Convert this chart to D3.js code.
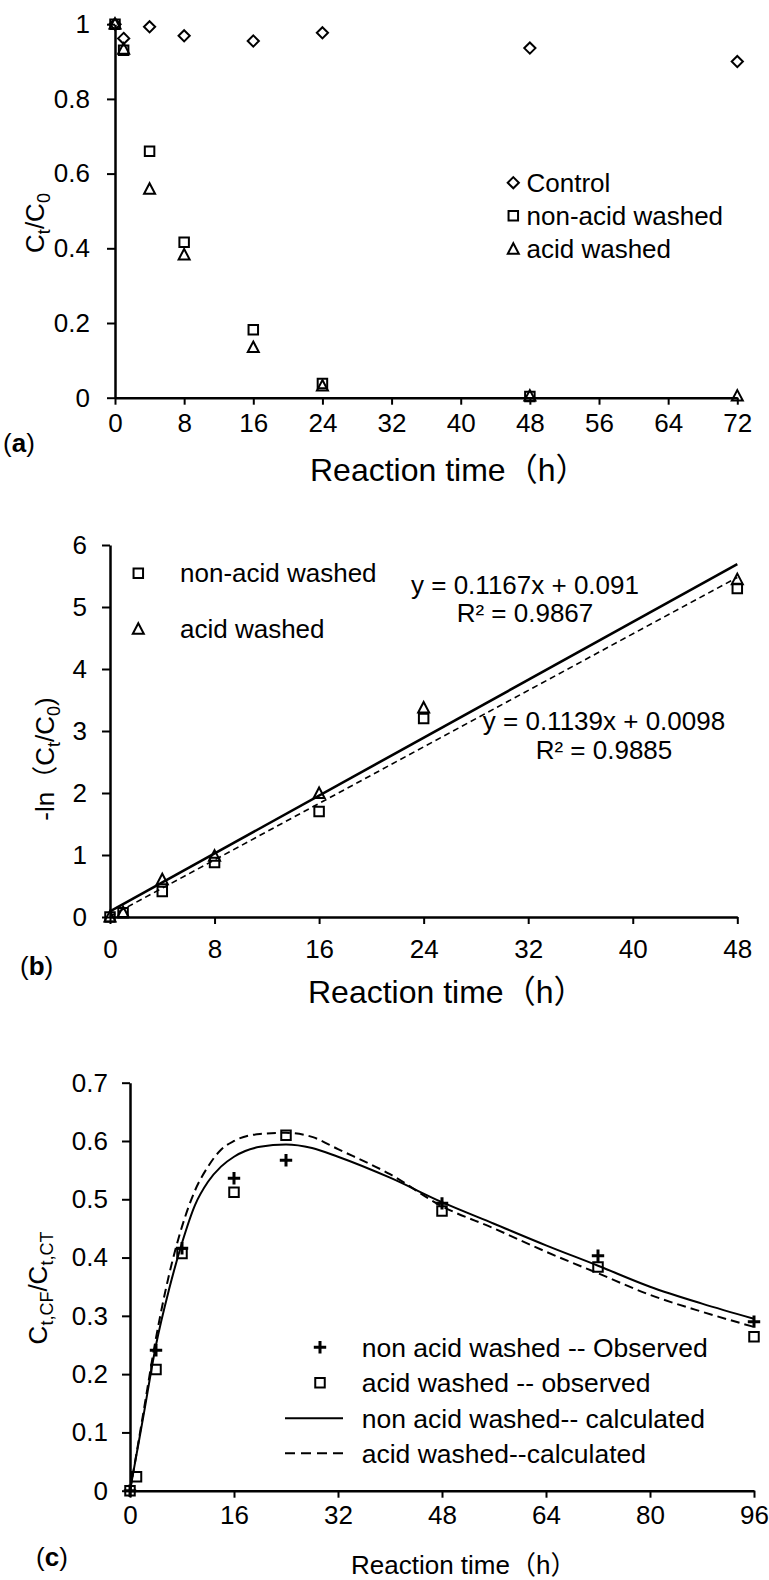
<!DOCTYPE html>
<html><head><meta charset="utf-8">
<script src="https://cdn.jsdelivr.net/npm/d3@7"></script>
<style>
body{margin:0;background:#fff}
svg text{font-family:"Liberation Sans",Arial,"Noto Sans CJK SC",sans-serif;fill:#000}
</style></head><body>
<svg id="chart" width="769" height="1580"></svg>
<script>
// ---------- Panel (a) ----------
const timeA = [0, 1, 4, 8, 16, 24, 48, 72];
const controlA = [1, 0.962, 0.993, 0.969, 0.955, 0.977, 0.936, 0.90];
const nonAcidA = [1, 0.93, 0.66, 0.416, 0.182, 0.038, 0.003, null];
const acidA = [1, 0.933, 0.558, 0.382, 0.134, 0.031, 0.004, 0.004];
const xTicksA = [0, 8, 16, 24, 32, 40, 48, 56, 64, 72];
const yTicksA = [0, 0.2, 0.4, 0.6, 0.8, 1];
const legendA = ["Control", "non-acid washed", "acid washed"];

// ---------- Panel (b) ----------
const timeB = [0, 1, 4, 8, 16, 24, 48];
const nonAcidB = [0, 0.07, 0.41, 0.88, 1.70, 3.20, 5.30];
const acidB = [0, 0.07, 0.60, 0.98, 1.99, 3.37, 5.44];
const fitSlopes = [0.1167, 0.1139];
const fitIntercepts = [0.091, 0.0098];
const fitEquations = ["y = 0.1167x + 0.091", "y = 0.1139x + 0.0098"];
const fitR2 = ["R² = 0.9867", "R² = 0.9885"];
const xTicksB = [0, 8, 16, 24, 32, 40, 48];
const yTicksB = [0, 1, 2, 3, 4, 5, 6];
const legendB = ["non-acid washed", "acid washed"];

// ---------- Panel (c) ----------
const timeC = [0, 1, 4, 8, 16, 24, 48, 72, 96];
const nonAcidObsC = [0, null, 0.241, 0.416, 0.536, 0.567, 0.493, 0.403, 0.29];
const acidObsC = [0, 0.024, 0.208, 0.407, 0.512, 0.61, 0.48, 0.384, 0.264];
const curveTimeC = [0, 1, 2, 4, 6, 8, 10, 12, 14, 16, 20, 24, 28, 32, 40, 48, 56, 64, 72, 80, 88, 96];
const nonAcidCalcC = [0, 0.062, 0.124, 0.25, 0.345, 0.425, 0.49, 0.53, 0.556, 0.573, 0.59, 0.594, 0.588, 0.573, 0.537, 0.495, 0.458, 0.421, 0.386, 0.35, 0.321, 0.295];
const acidCalcC = [0, 0.064, 0.13, 0.262, 0.37, 0.453, 0.515, 0.556, 0.585, 0.6, 0.612, 0.614, 0.607, 0.586, 0.543, 0.488, 0.45, 0.41, 0.373, 0.336, 0.307, 0.281];
const xTicksC = [0, 16, 32, 48, 64, 80, 96];
const yTicksC = [0, 0.1, 0.2, 0.3, 0.4, 0.5, 0.6, 0.7];
const legendC = ["non acid washed -- Observed", "acid washed -- observed", "non acid washed-- calculated", "acid washed--calculated"];

const xTitle = "Reaction time（h）";

const svg = d3.select("#chart");
svg.append("rect").attr("width", 769).attr("height", 1580).attr("fill", "#fff");

const FS = 26;

// marker paths
const sq = s => `M${-s/2},${-s/2}h${s}v${s}h${-s}Z`;
const tri = (w, h) => `M0,${-h*0.58}L${w/2},${h*0.42}L${-w/2},${h*0.42}Z`;
const dia = r => `M0,${-r}L${r},0L0,${r}L${-r},0Z`;
const plus = r => `M${-r},0H${r}M0,${-r}V${r}`;
const MARK = {
  square: {d: sq(9.5), w: 2},
  triangle: {d: tri(11, 10.5), w: 2},
  diamond: {d: dia(5.6), w: 2},
  plus: {d: plus(6.2), w: 3}
};

function drawMarkers(g, xs, ys, xS, yS, kind) {
  const pts = xs.map((t, i) => [t, ys[i]]).filter(p => p[1] !== null);
  g.selectAll(null).data(pts).enter().append("path")
    .attr("d", MARK[kind].d)
    .attr("transform", p => `translate(${xS(p[0])},${yS(p[1])})`)
    .attr("fill", "none").attr("stroke", "#000")
    .attr("stroke-width", MARK[kind].w).attr("stroke-linejoin", "miter");
}

function marker(g, x, y, kind) {
  g.append("path").attr("d", MARK[kind].d).attr("transform", `translate(${x},${y})`)
    .attr("fill", "none").attr("stroke", "#000").attr("stroke-width", MARK[kind].w);
}

function axes(g, xS, yS, xT, yT, yFmt, xPad, yPad) {
  const ax = d3.axisBottom(xS).tickValues(xT).tickSize(7).tickSizeOuter(0).tickPadding(xPad).tickFormat(d3.format("d"));
  const gx = g.append("g").attr("transform", `translate(0,${yS(0)})`).call(ax);
  const ay = d3.axisLeft(yS).tickValues(yT).tickSize(8).tickSizeOuter(0).tickPadding(yPad).tickFormat(yFmt);
  const gy = g.append("g").attr("transform", `translate(${xS(0)},0)`).call(ay);
  [gx, gy].forEach(a => {
    a.select(".domain").attr("stroke", "#000").attr("stroke-width", 2.5);
    a.selectAll(".tick line").attr("stroke", "#000").attr("stroke-width", 2);
    a.selectAll(".tick text").attr("font-size", FS).attr("fill", "#000")
      .attr("font-family", '"Liberation Sans",Arial,sans-serif');
  });
}

function panelLabel(x, y, letter) {
  const t = svg.append("text").attr("x", x).attr("y", y).attr("font-size", FS);
  t.append("tspan").text("(");
  t.append("tspan").attr("font-weight", "bold").text(letter);
  t.append("tspan").text(")");
}

function xTitleText(x, y, fs) {
  svg.append("text").attr("x", x).attr("y", y).attr("font-size", fs).text(xTitle);
}

function yTitle(x, y, parts) {
  const t = svg.append("text").attr("transform", `translate(${x},${y}) rotate(-90)`)
    .attr("text-anchor", "middle").attr("dy", "0.35em").attr("font-size", FS);
  let sub = false;
  parts.forEach(([txt, isSub]) => {
    const ts = t.append("tspan").text(txt);
    if (isSub && !sub) { ts.attr("dy", 6).attr("font-size", 18); sub = true; }
    else if (isSub) { ts.attr("font-size", 18); }
    else if (!isSub && sub) { ts.attr("dy", -6); sub = false; }
  });
}

// ================= Panel A =================
{
  const g = svg.append("g");
  const xS = d3.scaleLinear().domain([0, 72]).range([115, 737.3]);
  const yS = d3.scaleLinear().domain([0, 1]).range([397.7, 24.2]);
  axes(g, xS, yS, xTicksA, yTicksA, d => d === 0 || d === 1 ? String(d) : d3.format(".1f")(d), 9, 17);
  drawMarkers(g, timeA, controlA, xS, yS, "diamond");
  drawMarkers(g, timeA, nonAcidA, xS, yS, "square");
  drawMarkers(g, timeA, acidA, xS, yS, "triangle");
  const kinds = ["diamond", "square", "triangle"];
  const ly = [182.7, 215.8, 249.3];
  legendA.forEach((L, i) => {
    marker(g, 513.3, ly[i], kinds[i]);
    g.append("text").attr("x", 526.5).attr("y", ly[i]).attr("dy", "0.35em").attr("font-size", FS).text(L);
  });
  yTitle(35, 223, [["C", false], ["t", true], ["/C", false], ["0", true]]);
  panelLabel(3, 452, "a");
  xTitleText(310, 481, 32);
}

// ================= Panel B =================
{
  const g = svg.append("g");
  const xS = d3.scaleLinear().domain([0, 48]).range([110, 737.3]);
  const yS = d3.scaleLinear().domain([0, 6]).range([917, 545]);
  axes(g, xS, yS, xTicksB, yTicksB, d3.format("d"), 16, 15);
  // fit lines
  const dashes = [null, "6,4"];
  const widths = [2.6, 1.6];
  fitSlopes.forEach((m, i) => {
    const line = d3.line().x(t => xS(t)).y(t => yS(m * t + fitIntercepts[i]));
    g.append("path").datum([0, 48]).attr("d", line).attr("fill", "none").attr("stroke", "#000")
      .attr("stroke-width", widths[i]).attr("stroke-dasharray", dashes[i]);
  });
  drawMarkers(g, timeB, nonAcidB, xS, yS, "square");
  drawMarkers(g, timeB, acidB, xS, yS, "triangle");
  const eqPos = [[525, 593.5, 622], [604, 729.5, 759]];
  fitEquations.forEach((e, i) => {
    g.append("text").attr("x", eqPos[i][0]).attr("y", eqPos[i][1]).attr("text-anchor", "middle").attr("font-size", FS).text(e);
    g.append("text").attr("x", eqPos[i][0]).attr("y", eqPos[i][2]).attr("text-anchor", "middle").attr("font-size", FS).text(fitR2[i]);
  });
  const kinds = ["square", "triangle"];
  const ly = [573.3, 629.3];
  legendB.forEach((L, i) => {
    marker(g, 138.3, ly[i], kinds[i]);
    g.append("text").attr("x", 180).attr("y", ly[i]).attr("dy", "0.35em").attr("font-size", FS).text(L);
  });
  yTitle(45, 759, [["-ln（C", false], ["t", true], ["/C", false], ["0", true], [")", false]]);
  panelLabel(20, 975, "b");
  xTitleText(308, 1003, 32);
}

// ================= Panel C =================
{
  const g = svg.append("g");
  const xS = d3.scaleLinear().domain([0, 96]).range([130, 754]);
  const yS = d3.scaleLinear().domain([0, 0.7]).range([1490.7, 1082.7]);
  axes(g, xS, yS, xTicksC, yTicksC, d => d === 0 ? "0" : d3.format(".1f")(d), 8, 14);
  const line = d3.line().x(d => xS(d[0])).y(d => yS(d[1])).curve(d3.curveMonotoneX);
  g.append("path").datum(curveTimeC.map((t, i) => [t, nonAcidCalcC[i]])).attr("d", line)
    .attr("fill", "none").attr("stroke", "#000").attr("stroke-width", 2);
  g.append("path").datum(curveTimeC.map((t, i) => [t, acidCalcC[i]])).attr("d", line)
    .attr("fill", "none").attr("stroke", "#000").attr("stroke-width", 2).attr("stroke-dasharray", "9,5");
  drawMarkers(g, timeC, nonAcidObsC, xS, yS, "plus");
  drawMarkers(g, timeC, acidObsC, xS, yS, "square");
  const ly = [1347.3, 1382.7, 1418.3, 1453.3];
  marker(g, 320, ly[0], "plus");
  marker(g, 320, ly[1], "square");
  g.append("line").attr("x1", 285).attr("x2", 343).attr("y1", ly[2]).attr("y2", ly[2]).attr("stroke", "#000").attr("stroke-width", 2);
  g.append("line").attr("x1", 285).attr("x2", 343).attr("y1", ly[3]).attr("y2", ly[3]).attr("stroke", "#000").attr("stroke-width", 2).attr("stroke-dasharray", "10,6");
  legendC.forEach((L, i) => {
    g.append("text").attr("x", 361.7).attr("y", ly[i]).attr("dy", "0.35em").attr("font-size", 26.5).text(L);
  });
  yTitle(38, 1288, [["C", false], ["t,CF", true], ["/C", false], ["t,CT", true]]);
  panelLabel(36, 1566, "c");
  xTitleText(351, 1574, FS);
}
</script>
</body></html>
